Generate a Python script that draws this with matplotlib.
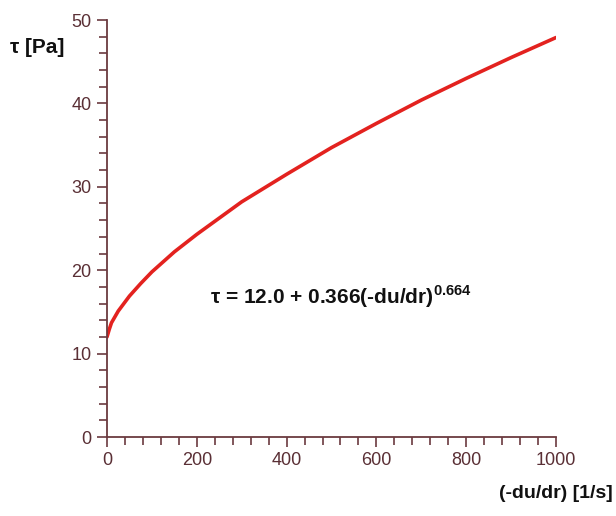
import matplotlib
matplotlib.use('Agg')
import matplotlib.pyplot as plt
from matplotlib.ticker import MultipleLocator

plt.rcParams['font.family'] = ['Liberation Sans', 'DejaVu Sans']
plt.rcParams['mathtext.fontset'] = 'custom'
plt.rcParams['mathtext.rm'] = 'Liberation Sans'
plt.rcParams['mathtext.bf'] = 'Liberation Sans:bold'

# shear rate and shear stress
rate = [0, 5, 10, 25, 50, 75, 100, 150, 200, 300, 400, 500, 600, 700, 800, 900, 1000]
stress = [12.0, 12.9, 13.7, 15.1, 16.9, 18.4, 19.8, 22.2, 24.3, 28.2, 31.5, 34.7,
          37.6, 40.4, 43.0, 45.5, 47.9]

axisColor = '#6b3a3f'
labelColor = '#5a2f35'

fig = plt.figure(figsize=(6.16, 5.16), dpi=100)
ax = fig.add_axes([0.1737, 0.1531, 0.7289, 0.8081])

ax.plot(rate, stress, color='#e3221f', lw=2.6, solid_capstyle='round',
        solid_joinstyle='round')

ax.set_xlim(0, 1000)
ax.set_ylim(0, 50)
ax.xaxis.set_major_locator(MultipleLocator(200))
ax.xaxis.set_minor_locator(MultipleLocator(40))
ax.yaxis.set_major_locator(MultipleLocator(10))
ax.yaxis.set_minor_locator(MultipleLocator(2))

for s in ['top', 'right']:
    ax.spines[s].set_visible(False)
for s in ['left', 'bottom']:
    ax.spines[s].set_color(axisColor)
    ax.spines[s].set_linewidth(1.3)

ax.tick_params(which='both', direction='out', color=axisColor, width=1.2,
               labelcolor=labelColor, labelsize=13)
ax.tick_params(which='major', length=7, pad=4)
ax.tick_params(which='minor', length=6)

fig.text(0.016, 0.908, 'τ [Pa]', fontsize=15, fontweight='bold',
         ha='left', va='center', color='#111111')
fig.text(0.995, 0.043, '(-du/dr) [1/s]', fontsize=14, fontweight='bold',
         ha='right', va='center', color='#111111')
ax.text(0.229, 0.336, r'τ = 12.0 + 0.366(-du/dr)$^{\mathbf{0.664}}$',
        transform=ax.transAxes, fontsize=15, fontweight='bold',
        ha='left', va='center', color='#111111')

fig.savefig('out.png', dpi=100)
